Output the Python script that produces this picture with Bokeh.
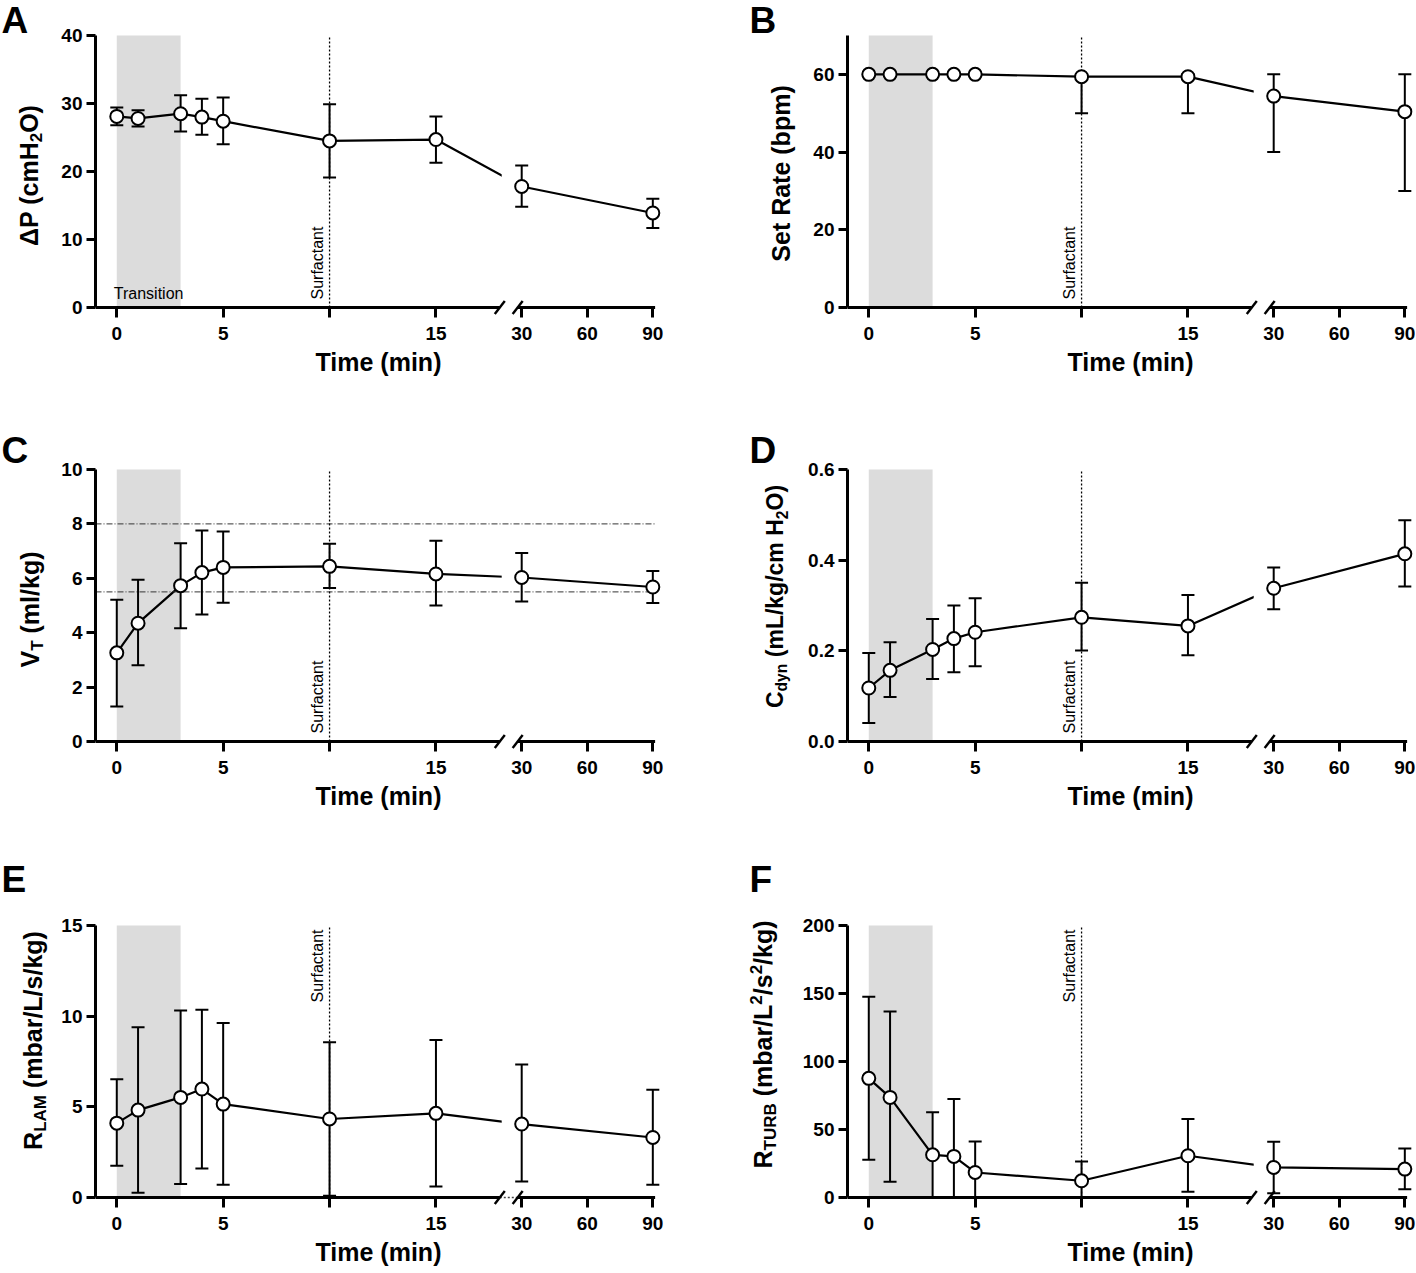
import math
from bokeh.plotting import figure
from bokeh.layouts import gridplot
from bokeh.models import Range1d, FixedTicker, Label, PrintfTickFormatter
from bokeh.embed import file_html
from bokeh.resources import INLINE

# ---------------- data ----------------
times = [0, 1, 3, 4, 5, 10, 15, 30, 90]
tick_times = [0, 5, 10, 15, 30, 60, 90]
tick_labels = ["0", "5", "", "15", "30", "60", "90"]
transition_window = [0, 3]
surfactant_time = 10
vt_target = [5.5, 8.0]

dp_mean = [28.1, 27.8, 28.5, 28.0, 27.4, 24.5, 24.7, 17.8, 13.9]
dp_upper = [29.4, 29.0, 31.2, 30.7, 30.9, 29.9, 28.1, 20.9, 16.0]
dp_lower = [26.8, 26.6, 25.9, 25.4, 24.0, 19.1, 21.3, 14.8, 11.7]

rate_mean = [60, 60, 60, 60, 60, 59.4, 59.4, 54.4, 50.4]
rate_upper = [60, 60, 60, 60, 60, 60, 60, 60, 60]
rate_lower = [60, 60, 60, 60, 60, 50, 50, 40, 30]

vt_mean = [3.26, 4.35, 5.73, 6.21, 6.40, 6.44, 6.16, 6.03, 5.68]
vt_upper = [5.21, 5.95, 7.29, 7.76, 7.72, 7.27, 7.38, 6.93, 6.27]
vt_lower = [1.29, 2.80, 4.16, 4.67, 5.10, 5.64, 5.00, 5.15, 5.09]

cdyn_mean = [0.118, 0.157, 0.203, 0.227, 0.241, 0.274, 0.255, 0.338, 0.414]
cdyn_upper = [0.195, 0.219, 0.270, 0.300, 0.316, 0.350, 0.323, 0.384, 0.488]
cdyn_lower = [0.041, 0.098, 0.138, 0.153, 0.166, 0.201, 0.190, 0.292, 0.342]

rlam_mean = [4.10, 4.82, 5.52, 5.98, 5.15, 4.33, 4.64, 4.05, 3.31]
rlam_upper = [6.52, 9.39, 10.31, 10.36, 9.63, 8.56, 8.69, 7.33, 5.94]
rlam_lower = [1.75, 0.26, 0.74, 1.60, 0.70, 0.09, 0.61, 0.88, 0.70]

rturb_mean = [87.6, 73.6, 31.4, 30.2, 18.4, 12.3, 30.7, 22.1, 20.9]
rturb_upper = [147.7, 136.7, 62.6, 72.4, 41.2, 26.5, 57.7, 41.0, 36.1]
rturb_lower = [27.7, 11.5, 0, 0, 0, 0, 4.2, 3.2, 6.1]

# ---------------- layout / style ----------------
FONT = "Liberation Sans"
X_START, X_END, AXIS_END = -1.0, 25.6, 25.3
FRAME_W, PLOT_H, EXT = 566, 272, 8      # plot area width, height of 0..ymax, extension below 0
PX_X = FRAME_W / (X_END - X_START)
BREAK_AT = 18.0
SEG2_ORIGIN, SEG2_SCALE = 19.03, 0.1027
BREAK_MARKS = [18.0, 18.84]
GAP = (18.09, 18.86)


def xpos(t):
    """broken time axis: 0-18 min linear, then 30-90 min compressed"""
    return float(t) if t <= BREAK_AT else SEG2_ORIGIN + (t - 30) * SEG2_SCALE


# Arial/Liberation Sans Bold advance widths (1/1000 em)
AB = {' ': 278, '(': 333, ')': 333, '/': 278, '2': 556, 'Δ': 700,
      'A': 722, 'B': 722, 'C': 722, 'H': 722, 'L': 611, 'M': 833, 'O': 778,
      'P': 667, 'R': 722, 'S': 667, 'T': 611, 'U': 722, 'V': 667,
      'a': 556, 'b': 611, 'c': 556, 'd': 611, 'e': 556, 'g': 611, 'k': 556,
      'l': 278, 'm': 889, 'n': 611, 'p': 611, 'r': 389, 's': 556, 't': 333,
      'y': 556}


def tw(s, size):
    return sum(AB.get(c, 600) for c in s) * size / 1000.0


def vlabel(p, pieces, x, y, size):
    """rotated (bottom-to-top) label of normal / sub / sup pieces, centred on (x, y)"""
    scale = {'n': 1.0, 'b': 0.68, 'p': 0.68}
    xshift = {'n': 0.0, 'b': 0.312, 'p': -0.268}   # centre shift (x size), + = right
    total = sum(tw(t, size * scale[k]) for t, k in pieces)
    pos = -total / 2.0
    for t, k in pieces:
        fs = size * scale[k]
        stripped = t.lstrip(' ')
        lead = tw(t[:len(t) - len(stripped)], fs)
        p.add_layout(Label(x=x, y=y, x_offset=xshift[k] * size, y_offset=pos + lead,
                           text=stripped, angle=math.pi / 2, text_align="left",
                           text_baseline="middle", text_font=FONT,
                           text_font_style="bold", text_font_size=f"{fs:.1f}px",
                           text_color="black"))
        pos += tw(t, fs)


def label_fig(W, top_b, bot_b, letter, letter_x, letter_y, pieces, cx, cy, size):
    FH = PLOT_H + EXT + top_b
    f = figure(frame_width=W, frame_height=FH, x_range=Range1d(0, W), y_range=Range1d(FH, 0),
               x_axis_type=None, y_axis_type=None, output_backend="svg",
               toolbar_location=None, tools="", min_border=0, min_border_left=0,
               min_border_right=0, min_border_top=0, min_border_bottom=bot_b)
    f.outline_line_color = None
    f.title.visible = False
    f.add_layout(Label(x=letter_x, y=letter_y, text=letter, text_font=FONT,
                       text_font_style="bold", text_font_size="37px",
                       text_align="left", text_baseline="middle", text_color="black"))
    vlabel(f, pieces, cx, cy, size)
    return f


def make_panel(mean, upper, lower, ymax, yticks, surf_top, top_b, bot_b, left_b, right_b,
               transition=False, targets=None, fmt=None, gap_dots=False):
    px_y = PLOT_H / ymax
    y0 = -EXT / px_y
    y1 = ymax + top_b / px_y
    p = figure(frame_width=FRAME_W, frame_height=PLOT_H + EXT + top_b,
               x_range=Range1d(X_START, X_END), y_range=Range1d(y0, y1),
               output_backend="svg", toolbar_location=None, tools="",
               min_border_left=left_b, min_border_right=right_b,
               min_border_top=0, min_border_bottom=bot_b)
    p.outline_line_color = None
    p.title.visible = False
    p.xgrid.visible = False
    p.ygrid.visible = False

    xs = [xpos(t) for t in times]
    xsurf = xpos(surfactant_time)

    p.quad(left=[xpos(transition_window[0])], right=[xpos(transition_window[1])],
           bottom=[0], top=[ymax], fill_color="#dcdcdc", line_color=None)
    p.line(xs, mean, line_width=2.2, color="black")
    p.quad(left=[GAP[0]], right=[GAP[1]], bottom=[y0], top=[ymax],
           fill_color="white", line_color=None)
    if targets:
        p.segment(x0=[X_START] * len(targets), y0=targets, x1=[AXIS_END] * len(targets),
                  y1=targets, line_color="#333333", line_width=1, line_dash="6 2 1 2")
    p.segment(x0=[xsurf], y0=[0], x1=[xsurf], y1=[ymax], line_dash="2 2",
              line_width=1.3, color="black")
    # broken x axis line
    p.segment(x0=[X_START, BREAK_MARKS[1]], y0=[0, 0], x1=[BREAK_MARKS[0], AXIS_END],
              y1=[0, 0], line_width=3, color="black")
    if gap_dots:
        p.segment(x0=[BREAK_MARKS[0]], y0=[0], x1=[BREAK_MARKS[1]], y1=[0],
                  line_width=1.5, line_dash="2 2", color="#444444")
    ddx, ddy = 5.0 / PX_X, 6.5 / px_y
    p.segment(x0=[b - ddx for b in BREAK_MARKS], y0=[-ddy, -ddy],
              x1=[b + ddx for b in BREAK_MARKS], y1=[ddy, ddy],
              line_width=2.4, color="black")
    # error bars + points
    p.segment(x0=xs, y0=lower, x1=xs, y1=upper, line_width=2, color="black")
    p.scatter(xs, upper, marker="dash", size=13, line_width=2, color="black")
    p.scatter(xs, lower, marker="dash", size=13, line_width=2, color="black")
    p.scatter(xs, mean, marker="circle", size=13, fill_color="white",
              line_color="black", line_width=2)

    # x axis
    xa = p.xaxis[0]
    xa.ticker = FixedTicker(ticks=[xpos(t) for t in tick_times])
    xa.major_label_overrides = {xpos(t): l for t, l in zip(tick_times, tick_labels)}
    xa.axis_line_color = None
    xa.major_tick_in = EXT
    xa.major_tick_out = 2
    xa.major_tick_line_width = 3
    xa.major_tick_line_color = "black"
    xa.minor_tick_line_color = None
    xa.major_label_text_font = FONT
    xa.major_label_text_font_style = "bold"
    xa.major_label_text_font_size = "19px"
    xa.major_label_text_color = "black"
    xa.major_label_standoff = 9
    xa.axis_label = "Time (min)"
    xa.axis_label_text_font = FONT
    xa.axis_label_text_font_style = "bold"
    xa.axis_label_text_font_size = "25px"
    xa.axis_label_text_color = "black"
    xa.axis_label_standoff = 5

    # y axis
    ya = p.yaxis[0]
    ya.ticker = FixedTicker(ticks=yticks)
    ya.bounds = (0, ymax)
    ya.axis_line_width = 3
    ya.axis_line_color = "black"
    ya.major_tick_line_width = 3
    ya.major_tick_line_color = "black"
    ya.major_tick_out = 9
    ya.major_tick_in = 0
    ya.minor_tick_line_color = None
    ya.major_label_text_font = FONT
    ya.major_label_text_font_style = "bold"
    ya.major_label_text_font_size = "19px"
    ya.major_label_text_color = "black"
    ya.major_label_standoff = 4
    if fmt is not None:
        ya.formatter = fmt

    surf = dict(text="Surfactant", angle=math.pi / 2, text_baseline="bottom",
                text_font=FONT, text_font_size="16px", text_color="black")
    if surf_top:
        p.add_layout(Label(x=xsurf, y=ymax, x_offset=-4, y_offset=-4, text_align="right", **surf))
    else:
        p.add_layout(Label(x=xsurf, y=0, x_offset=-4, y_offset=8, text_align="left", **surf))
    if transition:
        p.add_layout(Label(x=xpos(transition_window[0]), y=0, x_offset=-3, y_offset=14,
                           text="Transition", text_align="left", text_baseline="middle",
                           text_font=FONT, text_font_size="16px", text_color="black"))
    return p


# column geometry (px)
LW_L, LB_L, RB_L = 57, 38, 78      # left column: label strip, axis border, right border
LW_R, LB_R, RB_R = 60, 45, 5       # right column
# row geometry (px): space above the plot area, bottom border
ROWS = [(35, 114), (40, 110), (66, 66)]

pA = make_panel(dp_mean, dp_upper, dp_lower, 40, [0, 10, 20, 30, 40], False,
                *ROWS[0], LB_L, RB_L, transition=True)
pB = make_panel(rate_mean, rate_upper, rate_lower, 70, [0, 20, 40, 60], False,
                *ROWS[0], LB_R, RB_R)
pC = make_panel(vt_mean, vt_upper, vt_lower, 10, [0, 2, 4, 6, 8, 10], False,
                *ROWS[1], LB_L, RB_L, targets=vt_target)
pD = make_panel(cdyn_mean, cdyn_upper, cdyn_lower, 0.6, [0, 0.2, 0.4, 0.6], False,
                *ROWS[1], LB_R, RB_R, fmt=PrintfTickFormatter(format="%.1f"))
pE = make_panel(rlam_mean, rlam_upper, rlam_lower, 15, [0, 5, 10, 15], True,
                *ROWS[2], LB_L, RB_L, gap_dots=True)
pF = make_panel(rturb_mean, rturb_upper, rturb_lower, 200, [0, 50, 100, 150, 200], True,
                *ROWS[2], LB_R, RB_R)

lA = label_fig(LW_L, *ROWS[0], "A", 1, 20, [("ΔP (cmH", "n"), ("2", "b"), ("O)", "n")],
               28, 175, 25)
lB = label_fig(LW_R, *ROWS[0], "B", 10, 20, [("Set Rate (bpm)", "n")], 41, 173, 25)
lC = label_fig(LW_L, *ROWS[1], "C", 1, 21, [("V", "n"), ("T", "b"), (" (ml/kg)", "n")],
               29, 180, 25)
lD = label_fig(LW_R, *ROWS[1], "D", 10, 21,
               [("C", "n"), ("dyn", "b"), (" (mL/kg/cm H", "n"), ("2", "b"), ("O)", "n")],
               35, 167, 23)
lE = label_fig(LW_L, *ROWS[2], "E", 1, 20, [("R", "n"), ("LAM", "b"), (" (mbar/L/s/kg)", "n")],
               32, 181, 25)
lF = label_fig(LW_R, *ROWS[2], "F", 10, 20,
               [("R", "n"), ("TURB", "b"), (" (mbar/L", "n"), ("2", "p"), ("/s", "n"),
                ("2", "p"), ("/kg)", "n")], 23, 185, 25)

grid = gridplot([[lA, pA, lB, pB], [lC, pC, lD, pD], [lE, pE, lF, pF]],
                toolbar_location=None)

with open("out.html", "w") as f:
    f.write(file_html(grid, INLINE))
